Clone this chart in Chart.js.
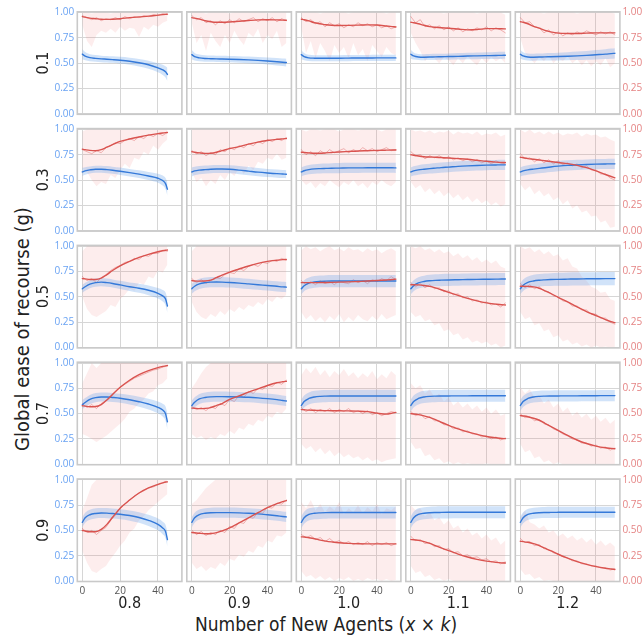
<!DOCTYPE html>
<html><head><meta charset="utf-8">
<script src="https://cdn.jsdelivr.net/npm/chart.js@4.4.1/dist/chart.umd.min.js"></script>
<style>
html,body{margin:0;padding:0;background:#fff;}
#wrap{position:relative;width:642px;height:638px;overflow:hidden;background:#fff;}
#wrap canvas{position:absolute;left:0;top:0;}
.lbl{position:absolute;font-family:"Liberation Sans Narrow","DejaVu Sans Condensed",Roboto,sans-serif;color:#222;white-space:nowrap;line-height:1;}
#ytitle{left:22px;top:329px;font-size:20px;transform:translate(-50%,-50%) rotate(-90deg);}
#xtitle{left:326px;top:624px;font-size:19px;transform:translate(-50%,-50%);}
</style></head><body>
<div id="wrap">
 <div class="lbl" id="ytitle">Global ease of recourse (g)</div>
 <div class="lbl" id="xtitle">Number of New Agents (<i>x</i> × <i>k</i>)</div>
</div>
<script>
// ---------- labels & ticks ----------
const ROW_LABELS = ['0.1','0.3','0.5','0.7','0.9'];
const COL_LABELS = ['0.8','0.9','1.0','1.1','1.2'];
const X_TICKS = [0, 20, 40];
const Y_TICKS = [0, 0.25, 0.5, 0.75, 1.0];

// ---------- x positions ----------
const XS_SHORT = [0,1.5,4,7,10,13,16,20,25,30,35,40,42.5,44,45];
const XS_LONG  = [0,1.5,4,7,10,13,16,20,25,30,35,40,45,48,50];
const XR_SHORT = [0,2.5,5,7.5,10,12.5,15,17.5,20,22.5,25,27.5,30,32.5,35,37.5,40,42.5,45];
const XR_LONG  = [0,2.5,5,7.5,10,12.5,15,17.5,20,22.5,25,27.5,30,32.5,35,37.5,40,42.5,45,47.5,50];

// ---------- red trend (smoothed) [row][col] ----------
const RED_TREND = [
 [[0.96,0.955,0.945,0.94,0.935,0.933,0.935,0.94,0.95,0.958,0.965,0.975,0.98,0.983,0.985],
  [0.95,0.945,0.935,0.92,0.91,0.905,0.905,0.908,0.915,0.922,0.928,0.93,0.928,0.926,0.925],
  [0.935,0.93,0.918,0.90,0.89,0.88,0.875,0.873,0.874,0.876,0.879,0.877,0.868,0.862,0.858],
  [0.905,0.90,0.89,0.875,0.862,0.855,0.85,0.846,0.838,0.83,0.833,0.842,0.842,0.84,0.839],
  [0.91,0.905,0.89,0.865,0.846,0.825,0.81,0.797,0.794,0.794,0.797,0.80,0.80,0.80,0.80]],
 [[0.805,0.80,0.793,0.79,0.80,0.825,0.85,0.882,0.905,0.925,0.943,0.958,0.964,0.968,0.97],
  [0.78,0.775,0.768,0.763,0.765,0.775,0.79,0.81,0.83,0.855,0.875,0.89,0.902,0.907,0.91],
  [0.775,0.772,0.768,0.765,0.765,0.768,0.772,0.777,0.782,0.787,0.79,0.793,0.795,0.796,0.797],
  [0.75,0.745,0.737,0.73,0.727,0.725,0.722,0.718,0.712,0.705,0.695,0.685,0.677,0.674,0.673],
  [0.725,0.72,0.712,0.705,0.698,0.69,0.683,0.673,0.662,0.645,0.622,0.59,0.555,0.535,0.522]],
 [[0.68,0.677,0.672,0.672,0.685,0.72,0.76,0.805,0.85,0.89,0.92,0.945,0.955,0.96,0.962],
  [0.66,0.657,0.655,0.656,0.665,0.69,0.715,0.745,0.775,0.805,0.83,0.85,0.862,0.868,0.87],
  [0.64,0.64,0.64,0.64,0.641,0.642,0.643,0.645,0.648,0.652,0.656,0.661,0.667,0.671,0.675],
  [0.62,0.62,0.618,0.612,0.603,0.588,0.57,0.545,0.515,0.485,0.46,0.44,0.428,0.422,0.42],
  [0.605,0.605,0.603,0.598,0.585,0.56,0.535,0.495,0.45,0.40,0.355,0.315,0.275,0.255,0.245]],
 [[0.578,0.574,0.568,0.57,0.59,0.635,0.69,0.76,0.83,0.885,0.925,0.955,0.966,0.972,0.975],
  [0.555,0.553,0.55,0.552,0.56,0.58,0.60,0.64,0.675,0.712,0.745,0.778,0.805,0.815,0.82],
  [0.54,0.538,0.535,0.533,0.531,0.53,0.529,0.528,0.527,0.525,0.52,0.505,0.495,0.505,0.513],
  [0.50,0.497,0.49,0.478,0.463,0.44,0.415,0.385,0.35,0.32,0.295,0.275,0.262,0.255,0.253],
  [0.48,0.477,0.47,0.455,0.435,0.405,0.375,0.335,0.285,0.24,0.205,0.18,0.163,0.157,0.153]],
 [[0.50,0.495,0.487,0.487,0.51,0.56,0.63,0.72,0.80,0.87,0.92,0.955,0.97,0.978,0.98],
  [0.48,0.477,0.472,0.468,0.468,0.478,0.495,0.525,0.575,0.625,0.675,0.725,0.765,0.785,0.795],
  [0.437,0.435,0.428,0.418,0.405,0.395,0.387,0.378,0.372,0.368,0.367,0.367,0.367,0.367,0.367],
  [0.41,0.408,0.402,0.39,0.372,0.35,0.328,0.30,0.267,0.238,0.215,0.197,0.185,0.18,0.178],
  [0.393,0.39,0.383,0.37,0.35,0.325,0.30,0.265,0.227,0.192,0.165,0.143,0.127,0.12,0.115]]
];

// ---------- red raw (per step) ----------
const RED_RAW = [
 [[0.97,0.95,0.93,0.95,0.92,0.94,0.93,0.95,0.93,0.96,0.94,0.96,0.95,0.97,0.96,0.98,0.97,0.99,0.98],
  [0.97,0.93,0.95,0.90,0.92,0.88,0.92,0.89,0.93,0.90,0.94,0.91,0.93,0.95,0.91,0.94,0.92,0.95,0.91,0.94,0.92],
  [0.95,0.91,0.93,0.89,0.91,0.86,0.90,0.87,0.89,0.85,0.88,0.86,0.90,0.87,0.89,0.86,0.88,0.85,0.87,0.84,0.86],
  [0.96,0.90,0.93,0.86,0.88,0.84,0.87,0.83,0.86,0.82,0.85,0.81,0.84,0.82,0.85,0.83,0.86,0.82,0.85,0.83,0.80],
  [0.95,0.90,0.91,0.86,0.85,0.80,0.83,0.78,0.81,0.77,0.80,0.78,0.81,0.79,0.82,0.80,0.78,0.81,0.79,0.81,0.78]],
 [[0.80,0.78,0.76,0.79,0.77,0.82,0.84,0.87,0.86,0.89,0.91,0.89,0.93,0.91,0.95,0.93,0.96,0.94,0.97],
  [0.79,0.76,0.78,0.74,0.77,0.75,0.80,0.78,0.82,0.80,0.84,0.82,0.86,0.84,0.88,0.86,0.90,0.88,0.91,0.89,0.92],
  [0.80,0.75,0.78,0.74,0.79,0.76,0.80,0.77,0.79,0.81,0.77,0.80,0.78,0.82,0.79,0.81,0.78,0.80,0.82,0.79,0.80],
  [0.78,0.74,0.75,0.71,0.74,0.72,0.74,0.71,0.73,0.70,0.72,0.69,0.71,0.68,0.70,0.67,0.69,0.66,0.69,0.67,0.66],
  [0.76,0.71,0.72,0.68,0.71,0.67,0.70,0.66,0.69,0.65,0.67,0.64,0.66,0.62,0.64,0.60,0.60,0.56,0.56,0.52,0.50]],
 [[0.70,0.66,0.68,0.64,0.69,0.72,0.76,0.79,0.81,0.84,0.85,0.88,0.87,0.91,0.90,0.93,0.93,0.96,0.95],
  [0.68,0.64,0.67,0.63,0.66,0.69,0.68,0.72,0.74,0.73,0.78,0.76,0.80,0.82,0.80,0.84,0.83,0.86,0.85,0.88,0.86],
  [0.66,0.62,0.65,0.62,0.66,0.63,0.65,0.62,0.66,0.64,0.63,0.67,0.64,0.66,0.63,0.67,0.65,0.68,0.66,0.70,0.67],
  [0.64,0.60,0.63,0.59,0.62,0.58,0.59,0.55,0.56,0.52,0.53,0.49,0.50,0.46,0.47,0.44,0.45,0.42,0.43,0.40,0.44],
  [0.63,0.59,0.62,0.58,0.60,0.56,0.55,0.51,0.50,0.46,0.45,0.41,0.41,0.37,0.37,0.33,0.33,0.29,0.29,0.25,0.23]],
 [[0.60,0.56,0.59,0.55,0.60,0.63,0.68,0.72,0.76,0.79,0.82,0.85,0.87,0.89,0.91,0.93,0.94,0.96,0.97],
  [0.57,0.54,0.56,0.53,0.57,0.55,0.60,0.58,0.64,0.62,0.68,0.66,0.72,0.70,0.75,0.74,0.78,0.77,0.81,0.79,0.83],
  [0.56,0.52,0.55,0.51,0.54,0.52,0.55,0.51,0.54,0.52,0.55,0.51,0.53,0.50,0.53,0.49,0.51,0.48,0.50,0.52,0.51],
  [0.52,0.48,0.50,0.45,0.47,0.43,0.43,0.39,0.39,0.35,0.36,0.32,0.33,0.30,0.30,0.27,0.28,0.25,0.27,0.24,0.26],
  [0.50,0.46,0.47,0.43,0.44,0.40,0.39,0.35,0.33,0.30,0.28,0.25,0.24,0.21,0.21,0.18,0.19,0.16,0.17,0.14,0.16]],
 [[0.52,0.48,0.50,0.46,0.50,0.53,0.60,0.65,0.72,0.76,0.80,0.84,0.87,0.89,0.92,0.93,0.95,0.97,0.98],
  [0.50,0.46,0.49,0.45,0.48,0.46,0.50,0.48,0.54,0.52,0.58,0.57,0.63,0.62,0.68,0.67,0.73,0.72,0.77,0.76,0.80],
  [0.46,0.43,0.45,0.41,0.43,0.39,0.42,0.38,0.40,0.37,0.39,0.36,0.38,0.36,0.39,0.35,0.38,0.36,0.38,0.35,0.37],
  [0.44,0.40,0.41,0.37,0.38,0.34,0.35,0.31,0.32,0.28,0.29,0.25,0.26,0.23,0.24,0.21,0.22,0.19,0.20,0.17,0.19],
  [0.42,0.38,0.39,0.35,0.36,0.32,0.31,0.28,0.27,0.24,0.23,0.20,0.20,0.17,0.17,0.15,0.15,0.13,0.13,0.11,0.12]]
];

// ---------- red spread: low / high ----------
const RED_LOW = [
 [[0.88,0.72,0.66,0.78,0.82,0.80,0.84,0.80,0.86,0.82,0.85,0.84,0.76,0.86,0.83,0.88,0.86,0.90,0.92],
  [0.90,0.70,0.78,0.62,0.80,0.72,0.66,0.78,0.70,0.82,0.74,0.68,0.80,0.76,0.84,0.70,0.78,0.74,0.82,0.66,0.70],
  [0.85,0.60,0.72,0.55,0.70,0.62,0.52,0.68,0.60,0.66,0.55,0.70,0.58,0.64,0.52,0.68,0.62,0.56,0.66,0.60,0.58],
  [0.80,0.70,0.62,0.52,0.58,0.55,0.50,0.56,0.53,0.48,0.55,0.50,0.57,0.52,0.48,0.55,0.50,0.56,0.52,0.55,0.50],
  [0.75,0.60,0.55,0.50,0.56,0.52,0.58,0.50,0.55,0.52,0.57,0.50,0.54,0.48,0.53,0.47,0.52,0.48,0.55,0.46,0.50]],
 [[0.62,0.58,0.50,0.44,0.48,0.46,0.55,0.52,0.60,0.66,0.62,0.72,0.70,0.78,0.75,0.84,0.80,0.86,0.90],
  [0.58,0.48,0.52,0.44,0.50,0.46,0.55,0.50,0.58,0.54,0.62,0.56,0.64,0.60,0.68,0.66,0.72,0.70,0.76,0.70,0.72],
  [0.50,0.45,0.48,0.42,0.47,0.44,0.50,0.46,0.43,0.48,0.45,0.50,0.44,0.47,0.42,0.48,0.45,0.50,0.46,0.44,0.48],
  [0.48,0.42,0.45,0.38,0.42,0.36,0.40,0.34,0.38,0.32,0.36,0.30,0.34,0.28,0.32,0.27,0.30,0.25,0.28,0.24,0.26],
  [0.46,0.40,0.44,0.36,0.40,0.34,0.37,0.30,0.33,0.26,0.30,0.22,0.25,0.18,0.20,0.14,0.15,0.08,0.10,0.03,0.04]],
 [[0.50,0.38,0.32,0.30,0.33,0.36,0.42,0.40,0.48,0.52,0.58,0.56,0.64,0.62,0.70,0.68,0.76,0.74,0.82],
  [0.45,0.35,0.30,0.28,0.33,0.30,0.36,0.32,0.38,0.35,0.40,0.37,0.42,0.40,0.45,0.42,0.48,0.45,0.50,0.48,0.52],
  [0.35,0.28,0.32,0.26,0.30,0.25,0.31,0.27,0.33,0.25,0.30,0.26,0.32,0.28,0.26,0.31,0.27,0.33,0.28,0.30,0.32],
  [0.35,0.30,0.32,0.26,0.28,0.22,0.24,0.16,0.18,0.12,0.14,0.08,0.10,0.05,0.07,0.04,0.06,0.02,0.04,0.00,0.02],
  [0.35,0.28,0.30,0.22,0.24,0.16,0.18,0.10,0.12,0.06,0.08,0.03,0.05,0.01,0.03,0.00,0.02,0.00,0.01,0.00,0.00]],
 [[0.30,0.28,0.25,0.22,0.25,0.28,0.32,0.36,0.40,0.45,0.52,0.55,0.60,0.64,0.70,0.72,0.78,0.80,0.85],
  [0.30,0.26,0.28,0.24,0.27,0.25,0.30,0.28,0.33,0.30,0.36,0.34,0.40,0.38,0.44,0.42,0.48,0.46,0.52,0.50,0.55],
  [0.20,0.15,0.18,0.12,0.16,0.10,0.14,0.08,0.12,0.07,0.10,0.06,0.08,0.04,0.07,0.03,0.05,0.02,0.04,0.05,0.06],
  [0.22,0.15,0.16,0.08,0.10,0.04,0.06,0.01,0.03,0.00,0.02,0.00,0.01,0.00,0.00,0.00,0.01,0.00,0.00,0.00,0.00],
  [0.20,0.12,0.14,0.06,0.08,0.02,0.04,0.00,0.02,0.00,0.00,0.00,0.00,0.00,0.00,0.00,0.00,0.00,0.00,0.00,0.00]],
 [[0.30,0.18,0.10,0.08,0.12,0.15,0.22,0.28,0.35,0.40,0.48,0.52,0.60,0.64,0.70,0.74,0.78,0.82,0.86],
  [0.18,0.12,0.15,0.10,0.14,0.12,0.18,0.15,0.22,0.20,0.26,0.24,0.30,0.28,0.35,0.33,0.40,0.38,0.45,0.44,0.48],
  [0.10,0.04,0.06,0.02,0.05,0.01,0.04,0.00,0.03,0.01,0.04,0.00,0.02,0.00,0.03,0.01,0.02,0.00,0.02,0.00,0.01],
  [0.15,0.08,0.10,0.04,0.06,0.01,0.03,0.00,0.02,0.00,0.00,0.00,0.00,0.00,0.00,0.00,0.00,0.00,0.00,0.00,0.00],
  [0.12,0.06,0.07,0.02,0.04,0.00,0.01,0.00,0.00,0.00,0.00,0.00,0.00,0.00,0.00,0.00,0.00,0.00,0.00,0.00,0.00]]
];
const RED_HIGH = [
 [[1,1,0.99,1,1,1,0.99,1,1,1,1,1,1,1,1,1,1,1,1],
  [1,1,1,0.99,1,1,1,1,0.99,1,1,1,1,1,1,1,0.99,1,1,1,1],
  [1,1,1,1,0.99,1,1,1,1,1,0.99,1,1,1,1,1,1,1,0.99,1,1],
  [1,1,1,1,1,1,1,0.99,1,1,1,1,1,1,0.99,1,1,1,1,1,0.98],
  [1,1,1,1,1,0.99,1,1,1,1,1,1,0.99,1,1,1,1,1,1,1,0.99]],
 [[0.98,1,1,1,1,1,1,1,1,1,1,1,1,1,1,1,1,1,1],
  [1,1,1,1,1,1,1,1,1,1,1,1,1,1,1,1,1,1,1,1,1],
  [1,0.98,1,1,0.99,1,1,1,0.98,1,1,1,0.99,1,1,1,1,0.98,1,1,1],
  [1,0.98,0.99,0.97,0.99,0.96,0.98,0.97,0.99,0.95,0.98,0.96,0.97,0.95,0.98,0.94,0.96,0.95,0.97,0.93,0.95],
  [1,0.97,1,0.96,0.98,0.95,0.98,0.95,0.97,0.94,0.96,0.95,0.97,0.93,0.96,0.94,0.95,0.92,0.93,0.90,0.88]],
 [[0.95,1,1,1,1,1,1,1,1,1,1,1,1,1,1,1,1,1,1],
  [0.95,1,1,1,1,1,1,1,1,1,1,1,1,1,1,1,1,1,1,1,1],
  [0.96,1,0.97,0.99,0.95,0.98,1,0.96,0.98,0.95,0.99,0.96,0.97,0.94,0.98,0.95,0.97,0.93,0.96,0.98,0.95],
  [1,0.98,1,0.96,0.98,0.94,0.97,0.93,0.95,0.90,0.93,0.88,0.91,0.86,0.89,0.84,0.87,0.83,0.86,0.80,0.78],
  [1,0.97,0.99,0.94,0.97,0.92,0.95,0.90,0.92,0.86,0.88,0.80,0.78,0.70,0.66,0.60,0.58,0.54,0.55,0.48,0.46]],
 [[0.80,0.90,1,0.95,1,1,1,1,1,1,1,1,1,1,1,1,1,1,1],
  [0.75,0.82,0.90,0.96,1,1,1,1,1,1,1,1,1,1,1,1,1,1,1,1,1],
  [0.88,0.95,0.90,0.96,0.88,0.93,0.86,0.92,0.88,0.94,0.87,0.91,0.85,0.90,0.86,0.92,0.84,0.89,0.85,0.92,0.88],
  [0.80,0.75,0.78,0.70,0.74,0.66,0.70,0.62,0.66,0.58,0.62,0.56,0.60,0.54,0.58,0.52,0.56,0.50,0.54,0.48,0.50],
  [0.76,0.70,0.74,0.66,0.68,0.60,0.64,0.56,0.60,0.52,0.56,0.48,0.52,0.46,0.50,0.44,0.48,0.42,0.46,0.40,0.44]],
 [[0.70,0.82,0.95,1,1,1,1,1,1,1,1,1,1,1,1,1,1,1,1],
  [0.76,0.80,0.86,0.92,0.96,1,1,1,1,1,1,1,1,1,1,1,1,1,1,1,1],
  [0.78,0.72,0.80,0.70,0.76,0.68,0.74,0.70,0.78,0.66,0.72,0.68,0.75,0.67,0.73,0.69,0.76,0.66,0.72,0.70,0.74],
  [0.75,0.70,0.72,0.64,0.68,0.60,0.63,0.56,0.60,0.52,0.55,0.48,0.52,0.45,0.48,0.42,0.46,0.40,0.43,0.36,0.40],
  [0.62,0.70,0.58,0.56,0.52,0.55,0.48,0.50,0.44,0.47,0.42,0.45,0.40,0.43,0.38,0.42,0.36,0.40,0.35,0.38,0.34]]
];

// ---------- blue mean & half-width of its band ----------
const BLUE_MEAN = [
 [[0.59,0.57,0.555,0.548,0.543,0.54,0.536,0.53,0.52,0.505,0.485,0.455,0.435,0.415,0.39],
  [0.585,0.565,0.553,0.547,0.545,0.543,0.542,0.54,0.537,0.533,0.528,0.522,0.515,0.51,0.507],
  [0.585,0.565,0.553,0.55,0.549,0.549,0.55,0.55,0.551,0.552,0.552,0.553,0.553,0.553,0.553],
  [0.589,0.572,0.562,0.56,0.561,0.563,0.564,0.566,0.568,0.571,0.573,0.575,0.577,0.578,0.579],
  [0.589,0.572,0.562,0.56,0.561,0.563,0.564,0.566,0.569,0.573,0.578,0.584,0.59,0.595,0.598]],
 [[0.58,0.59,0.60,0.607,0.607,0.603,0.597,0.587,0.573,0.558,0.54,0.518,0.495,0.465,0.41],
  [0.58,0.59,0.598,0.603,0.607,0.609,0.609,0.606,0.598,0.588,0.578,0.57,0.563,0.56,0.558],
  [0.58,0.592,0.603,0.61,0.613,0.615,0.617,0.618,0.62,0.62,0.621,0.621,0.621,0.621,0.62],
  [0.58,0.59,0.60,0.607,0.613,0.618,0.623,0.628,0.635,0.64,0.644,0.647,0.649,0.65,0.65],
  [0.58,0.59,0.60,0.608,0.615,0.622,0.629,0.637,0.645,0.65,0.654,0.657,0.659,0.66,0.66]],
 [[0.58,0.60,0.625,0.64,0.645,0.64,0.632,0.618,0.60,0.585,0.565,0.535,0.51,0.48,0.41],
  [0.58,0.605,0.628,0.64,0.645,0.646,0.645,0.642,0.636,0.628,0.62,0.612,0.604,0.598,0.596],
  [0.58,0.61,0.635,0.648,0.653,0.655,0.656,0.656,0.656,0.656,0.656,0.656,0.656,0.656,0.656],
  [0.58,0.61,0.638,0.652,0.659,0.663,0.665,0.667,0.669,0.671,0.673,0.674,0.675,0.676,0.676],
  [0.58,0.615,0.643,0.657,0.664,0.668,0.671,0.673,0.675,0.677,0.678,0.679,0.68,0.68,0.68]],
 [[0.588,0.61,0.64,0.658,0.665,0.665,0.66,0.652,0.637,0.618,0.595,0.562,0.535,0.50,0.42],
  [0.58,0.612,0.645,0.66,0.666,0.668,0.668,0.667,0.665,0.662,0.656,0.648,0.638,0.63,0.625],
  [0.58,0.62,0.65,0.665,0.671,0.673,0.674,0.675,0.675,0.675,0.675,0.675,0.675,0.675,0.675],
  [0.58,0.62,0.65,0.665,0.671,0.673,0.674,0.675,0.676,0.676,0.677,0.677,0.677,0.677,0.677],
  [0.58,0.62,0.65,0.665,0.671,0.673,0.674,0.675,0.676,0.676,0.677,0.677,0.678,0.678,0.678]],
 [[0.58,0.625,0.655,0.668,0.672,0.671,0.667,0.66,0.647,0.628,0.60,0.56,0.525,0.49,0.41],
  [0.58,0.625,0.657,0.67,0.675,0.676,0.676,0.676,0.674,0.67,0.664,0.655,0.645,0.638,0.634],
  [0.58,0.625,0.658,0.67,0.674,0.676,0.677,0.677,0.677,0.677,0.677,0.677,0.677,0.677,0.677],
  [0.58,0.625,0.658,0.67,0.675,0.677,0.678,0.679,0.68,0.68,0.68,0.68,0.68,0.68,0.68],
  [0.58,0.625,0.658,0.67,0.675,0.677,0.678,0.679,0.68,0.68,0.68,0.68,0.68,0.68,0.68]]
];
const BLUE_HALF = [
 [[0.05,0.04,0.035,0.033,0.032,0.032,0.032,0.033,0.035,0.037,0.04,0.045,0.05,0.055,0.065],
  [0.045,0.037,0.033,0.032,0.031,0.031,0.031,0.031,0.032,0.033,0.034,0.035,0.036,0.037,0.038],
  [0.045,0.035,0.03,0.03,0.03,0.03,0.03,0.03,0.03,0.03,0.03,0.03,0.03,0.03,0.03],
  [0.045,0.035,0.03,0.03,0.03,0.03,0.03,0.031,0.032,0.032,0.033,0.034,0.035,0.035,0.035],
  [0.045,0.037,0.035,0.035,0.035,0.036,0.037,0.038,0.04,0.042,0.044,0.046,0.048,0.05,0.05]],
 [[0.04,0.037,0.035,0.035,0.035,0.035,0.035,0.036,0.037,0.038,0.04,0.045,0.05,0.055,0.065],
  [0.045,0.042,0.04,0.04,0.04,0.04,0.04,0.04,0.04,0.04,0.04,0.04,0.04,0.04,0.04],
  [0.045,0.045,0.046,0.047,0.048,0.048,0.049,0.05,0.05,0.05,0.05,0.05,0.05,0.05,0.05],
  [0.045,0.046,0.047,0.048,0.049,0.05,0.05,0.05,0.05,0.05,0.05,0.05,0.05,0.05,0.05],
  [0.045,0.046,0.047,0.048,0.049,0.05,0.05,0.05,0.05,0.05,0.05,0.05,0.05,0.05,0.05]],
 [[0.04,0.04,0.04,0.04,0.04,0.04,0.04,0.04,0.042,0.045,0.048,0.052,0.057,0.063,0.07],
  [0.05,0.05,0.05,0.05,0.05,0.05,0.05,0.05,0.05,0.05,0.05,0.05,0.05,0.05,0.05],
  [0.055,0.055,0.056,0.057,0.058,0.059,0.06,0.06,0.06,0.06,0.06,0.06,0.06,0.06,0.06],
  [0.055,0.055,0.056,0.057,0.058,0.059,0.06,0.06,0.06,0.06,0.06,0.06,0.06,0.06,0.06],
  [0.055,0.056,0.058,0.06,0.061,0.062,0.063,0.064,0.065,0.065,0.065,0.065,0.065,0.065,0.065]],
 [[0.045,0.045,0.045,0.045,0.045,0.045,0.045,0.045,0.047,0.05,0.053,0.058,0.063,0.07,0.08],
  [0.05,0.05,0.05,0.05,0.05,0.05,0.05,0.05,0.05,0.05,0.05,0.05,0.05,0.05,0.05],
  [0.06,0.06,0.06,0.06,0.06,0.06,0.06,0.06,0.06,0.06,0.06,0.06,0.06,0.06,0.06],
  [0.06,0.06,0.06,0.06,0.06,0.06,0.06,0.06,0.06,0.06,0.06,0.06,0.06,0.06,0.06],
  [0.055,0.055,0.055,0.055,0.055,0.055,0.055,0.055,0.055,0.055,0.055,0.055,0.055,0.055,0.055]],
 [[0.05,0.05,0.05,0.05,0.05,0.05,0.05,0.05,0.05,0.052,0.055,0.058,0.062,0.066,0.07],
  [0.05,0.05,0.05,0.05,0.05,0.05,0.05,0.05,0.05,0.05,0.05,0.05,0.05,0.05,0.05],
  [0.06,0.06,0.06,0.06,0.06,0.06,0.06,0.06,0.06,0.06,0.06,0.06,0.06,0.06,0.06],
  [0.06,0.06,0.06,0.06,0.06,0.06,0.06,0.06,0.06,0.06,0.06,0.06,0.06,0.06,0.06],
  [0.055,0.055,0.055,0.055,0.055,0.055,0.055,0.055,0.055,0.055,0.055,0.055,0.055,0.055,0.055]]
];

// ---------- styling / layout ----------
const FIG_W = 642, FIG_H = 638;
const P_LEFT0 = 77.3, P_PITCH_X = 109.5, P_W = 104.6;
const P_TOP0 = 11.8, P_PITCH_Y = 116.8, P_H = 102.5;
const X_MIN = -2.65, X_MAX = 52.65, Y_MIN = -0.004, Y_MAX = 1.008;
const C_RED = '#d9534f', C_RED_RAW = 'rgba(220,80,80,0.4)', C_RED_BAND = 'rgba(238,130,130,0.14)';
const C_BLUE = '#3479d9', C_BLUE_BAND = 'rgba(90,155,235,0.28)';
const C_GRID = '#d6d6d6', C_FRAME = '#c9c9c9';
const C_YTICK_L = '#6aa3f3', C_YTICK_R = '#e58484', C_XTICK = '#555';
const TICK_FONT = '"Open Sans", Roboto, sans-serif';
const LBL_FONT = '"Liberation Sans Narrow", "DejaVu Sans Condensed", Roboto, sans-serif';

const framePlugin = {
  id: 'frame',
  afterDatasetsDraw(chart) {
    const {ctx, chartArea: a} = chart;
    ctx.save();
    ctx.strokeStyle = C_FRAME; ctx.lineWidth = 1.6;
    ctx.strokeRect(a.left, a.top, a.right - a.left, a.bottom - a.top);
    ctx.restore();
  }
};

const wrap = document.getElementById('wrap');
const pts = (X, Y) => X.map((x, i) => ({x: x, y: Y[i]}));
const setTicks = arr => (s => { s.ticks = arr.map(v => ({value: v})); });

function makePanel(r, c) {
  const cv = document.createElement('canvas');
  cv.width = FIG_W; cv.height = FIG_H;
  cv.style.width = FIG_W + 'px'; cv.style.height = FIG_H + 'px';
  wrap.appendChild(cv);
  const left = P_LEFT0 + c * P_PITCH_X, top = P_TOP0 + r * P_PITCH_Y;
  const right = left + P_W, bottom = top + P_H;
  const firstCol = c === 0, lastCol = c === 4, lastRow = r === 4;
  const xs = firstCol ? XS_SHORT : XS_LONG, xr = firstCol ? XR_SHORT : XR_LONG;
  const bm = BLUE_MEAN[r][c], bh = BLUE_HALF[r][c];

  const datasets = [
    {data: pts(xs, RED_TREND[r][c]), borderColor: C_RED, borderWidth: 1.4, pointRadius: 0, cubicInterpolationMode: 'monotone', fill: false},
    {data: pts(xs, bm), borderColor: C_BLUE, borderWidth: 1.4, pointRadius: 0, cubicInterpolationMode: 'monotone', fill: false},
    {data: pts(xs, bm.map((v, i) => v + bh[i])), borderWidth: 0, borderColor: 'rgba(0,0,0,0)', pointRadius: 0, cubicInterpolationMode: 'monotone', fill: '+1', backgroundColor: C_BLUE_BAND},
    {data: pts(xs, bm.map((v, i) => v - bh[i])), borderWidth: 0, borderColor: 'rgba(0,0,0,0)', pointRadius: 0, cubicInterpolationMode: 'monotone', fill: false},
    {data: pts(xr, RED_RAW[r][c]), borderColor: C_RED_RAW, borderWidth: 1, pointRadius: 0, tension: 0, fill: false},
    {data: pts(xr, RED_HIGH[r][c]), borderWidth: 0, borderColor: 'rgba(0,0,0,0)', pointRadius: 0, tension: 0, fill: '+1', backgroundColor: C_RED_BAND},
    {data: pts(xr, RED_LOW[r][c]), borderWidth: 0, borderColor: 'rgba(0,0,0,0)', pointRadius: 0, tension: 0, fill: false}
  ];

  const scales = {
    x: {
      type: 'linear', min: X_MIN, max: X_MAX,
      afterBuildTicks: setTicks(X_TICKS),
      grid: {color: C_GRID, lineWidth: 1, drawTicks: false},
      border: {display: false},
      ticks: {display: lastRow, padding: 4, color: C_XTICK, font: {family: TICK_FONT, size: 10}, maxRotation: 0},
      title: {display: lastRow, text: COL_LABELS[c], color: '#222', font: {family: LBL_FONT, size: 16}, padding: {top: 0, bottom: 25}},
      afterFit: s => { s.height = lastRow ? FIG_H - bottom : 0; }
    },
    y: {
      type: 'linear', position: 'left', min: Y_MIN, max: Y_MAX,
      afterBuildTicks: setTicks(Y_TICKS),
      grid: {color: C_GRID, lineWidth: 1, drawTicks: false},
      border: {display: false},
      ticks: {display: firstCol, padding: 3, color: C_YTICK_L, font: {family: TICK_FONT, size: 10}, callback: v => Number(v).toFixed(2)},
      title: {display: firstCol, text: ROW_LABELS[r], color: '#222', font: {family: LBL_FONT, size: 16}, padding: {top: 34, bottom: 0}},
      afterFit: s => { s.width = firstCol ? left : 0; }
    }
  };
  if (lastCol) {
    scales.y2 = {
      type: 'linear', position: 'right', min: Y_MIN, max: Y_MAX,
      afterBuildTicks: setTicks(Y_TICKS),
      grid: {display: false, drawTicks: false},
      border: {display: false},
      ticks: {padding: 2.5, color: C_YTICK_R, font: {family: TICK_FONT, size: 10}, callback: v => Number(v).toFixed(2)},
      afterFit: s => { s.width = FIG_W - right; }
    };
  }

  new Chart(cv, {
    type: 'line',
    data: {datasets: datasets},
    options: {
      responsive: false, animation: false, devicePixelRatio: 1,
      layout: {padding: {left: firstCol ? 0 : left, right: lastCol ? 0 : FIG_W - right, top: top, bottom: lastRow ? 0 : FIG_H - bottom}},
      plugins: {legend: {display: false}, tooltip: {enabled: false}},
      scales: scales,
      elements: {line: {borderCapStyle: 'round'}}
    },
    plugins: [framePlugin]
  });
}

for (let r = 0; r < 5; r++) for (let c = 0; c < 5; c++) makePanel(r, c);
</script>
</body></html>
